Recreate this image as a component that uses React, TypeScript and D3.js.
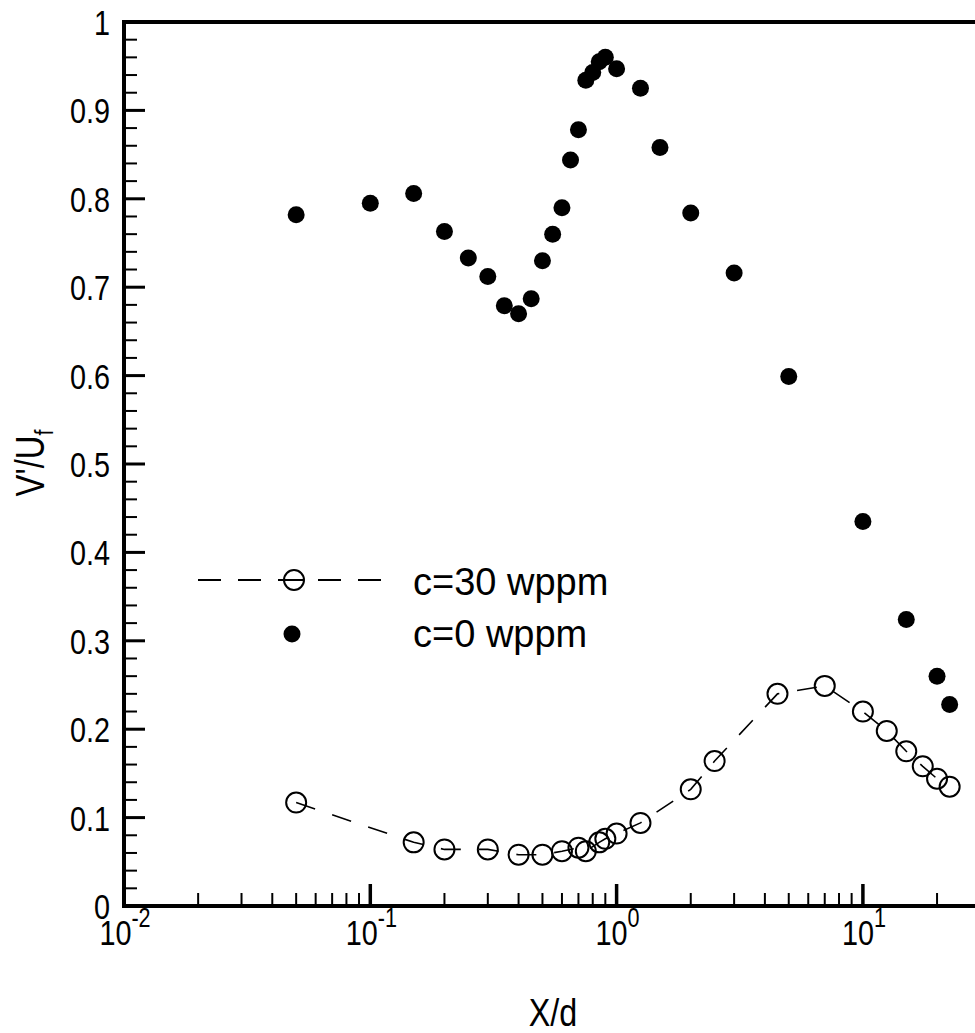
import React from 'react';
import * as d3 from 'd3';

// ---- data ----
const yTickValues = [0, 0.1, 0.2, 0.3, 0.4, 0.5, 0.6, 0.7, 0.8, 0.9, 1];
const yTickLabels = ['0', '0.1', '0.2', '0.3', '0.4', '0.5', '0.6', '0.7', '0.8', '0.9', '1'];
const xTickExponents = [-2, -1, 0, 1];
const xTickLabelsExp = ['-2', '-1', '0', '1'];

// c = 0 wppm (filled circles)
const cleanX = [0.05, 0.1, 0.15, 0.2, 0.25, 0.3, 0.35, 0.4, 0.45, 0.5, 0.55, 0.6, 0.65, 0.7, 0.75, 0.8, 0.85, 0.9, 1.0, 1.25, 1.5, 2, 3, 5, 10, 15, 20, 22.5];
const cleanY = [0.782, 0.795, 0.806, 0.763, 0.733, 0.712, 0.679, 0.67, 0.687, 0.73, 0.76, 0.79, 0.844, 0.878, 0.934, 0.943, 0.955, 0.96, 0.947, 0.925, 0.858, 0.784, 0.716, 0.599, 0.435, 0.324, 0.26, 0.228];

// c = 30 wppm (open circles, dashed)
const seededX = [0.05, 0.15, 0.2, 0.3, 0.4, 0.5, 0.6, 0.7, 0.75, 0.85, 0.9, 1.0, 1.25, 2, 2.5, 4.5, 7, 10, 12.5, 15, 17.5, 20, 22.5];
const seededY = [0.117, 0.072, 0.064, 0.064, 0.058, 0.058, 0.062, 0.066, 0.062, 0.072, 0.076, 0.082, 0.094, 0.132, 0.164, 0.24, 0.249, 0.22, 0.198, 0.175, 0.158, 0.144, 0.135];

const legendLabels = ['c=30 wppm', 'c=0 wppm'];

// ---- layout ----
const W = 975;
const H = 1033;
const left = 124;
const top = 22;
const bottom = 906;
const decade = 246.3;

export default function App() {
  const x = d3.scaleLog().domain([0.01, 100]).range([left, left + 4 * decade]);
  const y = d3.scaleLinear().domain([0, 1]).range([bottom, top]);

  const minorY = d3.range(0, 50).map((i) => i * 0.02).filter((v, i) => i % 5 !== 0);
  const minorX: number[] = [];
  for (let e = -2; e <= 1; e++) {
    for (let k = 2; k <= 9; k++) minorX.push(k * Math.pow(10, e));
  }

  const seeded = seededX.map((v, i) => [v, seededY[i]] as [number, number]);
  const clean = cleanX.map((v, i) => [v, cleanY[i]] as [number, number]);
  const line = d3.line<[number, number]>().x((d) => x(d[0])).y((d) => y(d[1]));

  const font = "'Liberation Sans', Arial, sans-serif";

  return (
    <svg width={W} height={H} style={{ position: 'absolute', left: 0, top: 0, background: '#fff' }}>
      <rect x={0} y={0} width={W} height={H} fill="#fff" />
      {/* y minor ticks */}
      {minorY.map((v) => (
        <line key={'my' + v} x1={left} x2={left + 13} y1={y(v)} y2={y(v)} stroke="#000" strokeWidth={2} />
      ))}
      {yTickValues.map((v) => (
        <line key={'Y' + v} x1={left} x2={left + 21} y1={y(v)} y2={y(v)} stroke="#000" strokeWidth={3} />
      ))}
      {/* x minor ticks */}
      {minorX.map((v) => (
        <line key={'mx' + v} x1={x(v)} x2={x(v)} y1={bottom} y2={bottom - 13} stroke="#000" strokeWidth={2} />
      ))}
      {xTickExponents.map((e) => (
        <line key={'X' + e} x1={x(Math.pow(10, e))} x2={x(Math.pow(10, e))} y1={bottom} y2={bottom - 22} stroke="#000" strokeWidth={3.5} />
      ))}
      {/* frame */}
      <line x1={left} x2={W + 10} y1={top} y2={top} stroke="#000" strokeWidth={4} />
      <line x1={left} x2={W + 10} y1={bottom} y2={bottom} stroke="#000" strokeWidth={4} />
      <line x1={left} x2={left} y1={top - 2} y2={bottom + 2} stroke="#000" strokeWidth={4} />

      {/* y tick labels */}
      {yTickValues.map((v, i) => (
        <text key={'yl' + v} transform={`translate(110,${y(v) + 13}) scale(0.8,1)`} textAnchor="end" fontFamily={font} fontSize={36} fill="#000">
          {yTickLabels[i]}
        </text>
      ))}
      {/* x tick labels */}
      {xTickExponents.map((e, i) => (
        <text key={'xl' + e} transform={`translate(${x(Math.pow(10, e)) + 1},945) scale(0.8,1)`} textAnchor="middle" fontFamily={font} fontSize={36} fill="#000">
          <tspan>10</tspan>
          <tspan fontSize={27} dy={-18}>{xTickLabelsExp[i]}</tspan>
        </text>
      ))}

      {/* axis titles */}
      <text transform="translate(553,1026) scale(0.85,1)" textAnchor="middle" fontFamily={font} fontSize={38} fill="#000">X/d</text>
      <text transform="translate(44,463) rotate(-90) scale(0.82,1)" textAnchor="middle" fontFamily={font} fontSize={40} fill="#000">
        <tspan>V'/U</tspan>
        <tspan fontSize={26} dy={9}>f</tspan>
      </text>

      {/* c=30 series */}
      <path d={line(seeded) || ''} fill="none" stroke="#000" strokeWidth={1.6} strokeDasharray="20,18" />
      {seeded.map((d, i) => (
        <circle key={'s' + i} cx={x(d[0])} cy={y(d[1])} r={10} fill="none" stroke="#000" strokeWidth={2} />
      ))}
      {/* c=0 series */}
      {clean.map((d, i) => (
        <circle key={'c' + i} cx={x(d[0])} cy={y(d[1])} r={8.5} fill="#000" />
      ))}

      {/* legend */}
      <line x1={198} x2={384} y1={580} y2={580} stroke="#000" strokeWidth={2} strokeDasharray="23,17" />
      <circle cx={294} cy={580} r={10} fill="none" stroke="#000" strokeWidth={2} />
      <line x1={284} x2={304} y1={580} y2={580} stroke="#000" strokeWidth={2} />
      <circle cx={292} cy={634} r={8.5} fill="#000" />
      <text x={413} y={595} fontFamily={font} fontSize={38} fill="#000">{legendLabels[0]}</text>
      <text x={413} y={647} fontFamily={font} fontSize={38} fill="#000">{legendLabels[1]}</text>
    </svg>
  );
}
